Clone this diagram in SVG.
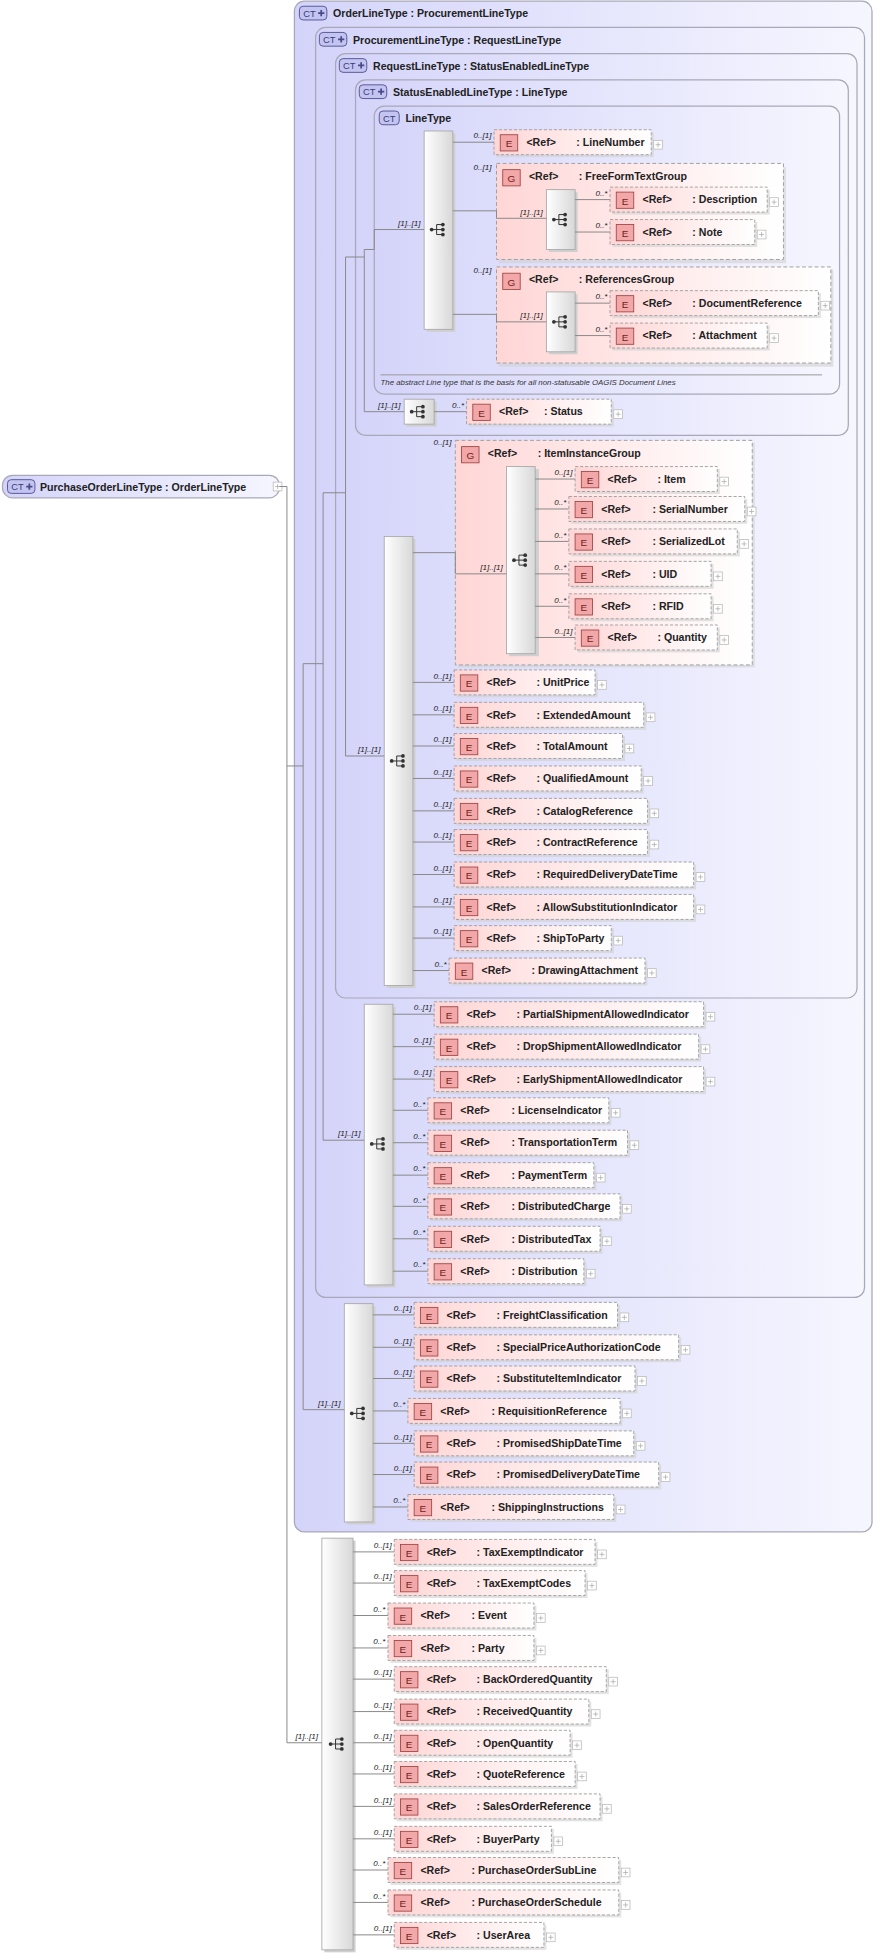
<svg xmlns="http://www.w3.org/2000/svg" xmlns:xlink="http://www.w3.org/1999/xlink" width="877" height="1955" viewBox="0 0 877 1955">
<defs>
<linearGradient id="gct" x1="0" y1="0" x2="1" y2="0"><stop offset="0" stop-color="#d4d4fa"/><stop offset="1" stop-color="#f6f6ff"/></linearGradient>
<linearGradient id="gel" x1="0" y1="0" x2="1" y2="0"><stop offset="0" stop-color="#ffd6d6"/><stop offset="1" stop-color="#ffffff"/></linearGradient>
<linearGradient id="gbar" x1="0" y1="0" x2="1" y2="0"><stop offset="0" stop-color="#ffffff"/><stop offset="1" stop-color="#d8d8d8"/></linearGradient>
<g id="seqg"><path d="M-6,0H-2M-2,-4V4M-2,-4H3M-2,0H3M-2,4H3" stroke="#333" stroke-width="0.8" fill="none"/><circle cx="-6" cy="0" r="1.5" fill="#333"/><circle cx="3" cy="-4" r="1.5" fill="#333"/><circle cx="3" cy="0" r="1.5" fill="#333"/><circle cx="3" cy="4" r="1.5" fill="#333"/></g>
<g id="pb"><rect x="0" y="-3.5" width="7" height="7" fill="#fff" stroke="#b8b8b8" stroke-width="0.6"/><path d="M1.5,0H5.5M3.5,-2V2" stroke="#aaa" stroke-width="0.6"/></g>
<g id="ctp"><path d="M0,-2.5V2.5M-2.5,0H2.5" stroke="#4a4a8a" stroke-width="1.4"/></g>
</defs>
<style>
.ct{fill:url(#gct);stroke:#a8a8b8;stroke-width:1}
.ci{fill:#c4c4f0;stroke:#5a5a9a;stroke-width:.8}
.cit{font-family:"Liberation Sans",Arial,sans-serif;font-size:7.5px;fill:#3a3a7a}
.tt{font-family:"Liberation Sans",Arial,sans-serif;font-size:8.5px;font-weight:bold;fill:#222}
.t{font-family:"Liberation Sans",Arial,sans-serif;font-size:8.5px;font-weight:bold;fill:#222}
.eb{fill:url(#gel);stroke:#9a9a9a;stroke-width:.7;stroke-dasharray:2.5 1.5}
.sh{fill:#d0d0d0;opacity:.6}
.gb{fill:url(#gel);stroke:#a0a0a0;stroke-width:.8;stroke-dasharray:3 2}
.ei{fill:#f2a8a8;stroke:#a04545;stroke-width:.7}
.ie{font-family:"Liberation Sans",Arial,sans-serif;font-size:8px;fill:#702020;text-anchor:middle}
.bar{fill:url(#gbar);stroke:#a8a8a8;stroke-width:.7}
.bsh{fill:#cfcfcf}
.cn{fill:none;stroke:#8a8a8a;stroke-width:.8}
.cd{font-family:"Liberation Sans",Arial,sans-serif;font-size:6.5px;font-style:italic;fill:#222;text-anchor:end}
.ds{font-family:"Liberation Sans",Arial,sans-serif;font-size:6.3px;font-style:italic;fill:#333}
</style>
<rect width="877" height="1955" fill="#fff"/>
<g transform="scale(1.2475)">

<!-- complex type containers -->
<g id="ct-OrderLineType"><rect class="ct" x="236" y="1" width="463" height="1227" rx="8"/><rect class="ci" x="240" y="5" width="22" height="11" rx="3"/><text class="cit" x="243" y="13.5">CT</text><use href="#ctp" x="257.5" y="10.5"/><text class="tt" x="267" y="14">OrderLineType : ProcurementLineType</text></g>
<g id="ct-ProcurementLineType"><rect class="ct" x="253" y="22" width="440" height="1018" rx="8"/><rect class="ci" x="256" y="26" width="22" height="11" rx="3"/><text class="cit" x="259" y="34.5">CT</text><use href="#ctp" x="273.5" y="31.5"/><text class="tt" x="283" y="35">ProcurementLineType : RequestLineType</text></g>
<g id="ct-RequestLineType"><rect class="ct" x="269" y="43" width="418" height="757" rx="8"/><rect class="ci" x="272" y="47" width="22" height="11" rx="3"/><text class="cit" x="275" y="55.5">CT</text><use href="#ctp" x="289.5" y="52.5"/><text class="tt" x="299" y="56">RequestLineType : StatusEnabledLineType</text></g>
<g id="ct-StatusEnabledLineType"><rect class="ct" x="285" y="64" width="395" height="285" rx="8"/><rect class="ci" x="288" y="68" width="22" height="11" rx="3"/><text class="cit" x="291" y="76.5">CT</text><use href="#ctp" x="305.5" y="73.5"/><text class="tt" x="315" y="77">StatusEnabledLineType : LineType</text></g>
<g id="ct-LineType"><rect class="ct" x="300" y="85" width="373" height="231" rx="8"/><rect class="ci" x="304" y="89" width="16" height="11" rx="3"/><text class="cit" x="307" y="97.5">CT</text><text class="tt" x="325" y="98">LineType</text><path d="M305,300.5H659" stroke="#999" stroke-width=".8"/><text class="ds" x="305" y="308.5">The abstract Line type that is the basis for all non-statusable OAGIS Document Lines</text></g>

<!-- root -->
<g id="root"><rect class="ct" x="2" y="381" width="222" height="18" rx="8"/><rect class="ci" x="6" y="384.5" width="22" height="11" rx="3"/><text class="cit" x="9" y="393">CT</text><use href="#ctp" x="23.5" y="390"/><text class="tt" x="32" y="393.5">PurchaseOrderLineType : OrderLineType</text><use href="#pb" x="219" y="390"/></g>

<!-- groups -->
<g id="g-FreeFormTextGroup"><rect class="sh" x="400" y="134" width="230" height="77"/><rect class="gb" x="398" y="131" width="230" height="77"/><rect class="ei" x="403" y="136" width="14" height="13"/><text class="ie" x="410" y="146">G</text><text class="t" x="424" y="144">&lt;Ref&gt;</text><text class="t" x="464" y="144">: FreeFormTextGroup</text></g>
<g id="g-ReferencesGroup"><rect class="sh" x="400" y="216" width="268" height="78"/><rect class="gb" x="398" y="214" width="268" height="77"/><rect class="ei" x="403" y="219" width="14" height="13"/><text class="ie" x="410" y="229">G</text><text class="t" x="424" y="227">&lt;Ref&gt;</text><text class="t" x="464" y="227">: ReferencesGroup</text></g>
<g id="g-ItemInstanceGroup"><rect class="sh" x="367" y="355" width="238" height="180"/><rect class="gb" x="365" y="353" width="238" height="180"/><rect class="ei" x="370" y="358" width="14" height="13"/><text class="ie" x="377" y="368">G</text><text class="t" x="391" y="366">&lt;Ref&gt;</text><text class="t" x="431" y="366">: ItemInstanceGroup</text></g>

<!-- sequence bars -->
<g id="s-LineType"><rect class="bsh" x="342" y="107" width="23" height="159"/><rect class="bar" x="340" y="105" width="23" height="159"/><use href="#seqg" x="352" y="184"/></g>
<g id="s-FreeForm"><rect class="bsh" x="440" y="154" width="23" height="48"/><rect class="bar" x="438" y="152" width="23" height="48"/><use href="#seqg" x="450" y="176"/></g>
<g id="s-Refs"><rect class="bsh" x="440" y="236" width="23" height="48"/><rect class="bar" x="438" y="234" width="23" height="48"/><use href="#seqg" x="450" y="258"/></g>
<g id="s-Status"><rect class="bsh" x="326" y="322" width="24" height="20"/><rect class="bar" x="324" y="320" width="24" height="20"/><use href="#seqg" x="336" y="330"/></g>
<g id="s-Item"><rect class="bsh" x="408" y="376" width="24" height="150"/><rect class="bar" x="406" y="374" width="23" height="150"/><use href="#seqg" x="418" y="449"/></g>
<g id="s-Request"><rect class="bsh" x="310" y="432" width="23" height="360"/><rect class="bar" x="308" y="430" width="23" height="360"/><use href="#seqg" x="320" y="610"/></g>
<g id="s-Procurement"><rect class="bsh" x="294" y="807" width="23" height="225"/><rect class="bar" x="292" y="805" width="23" height="225"/><use href="#seqg" x="304" y="917"/></g>
<g id="s-Order"><rect class="bsh" x="278" y="1047" width="23" height="175"/><rect class="bar" x="276" y="1045" width="23" height="175"/><use href="#seqg" x="288" y="1133"/></g>
<g id="s-Root"><rect class="bsh" x="260" y="1235" width="25" height="330"/><rect class="bar" x="258" y="1233" width="25" height="330"/><use href="#seqg" x="271" y="1398"/></g>

<!-- connectors -->
<g id="connectors">
<path class="cn" d="M224,390H230V1397H258M230,614H243"/>
<path class="cn" d="M243,532V1130H276M243,532H259"/>
<path class="cn" d="M259,395V914H292M259,395H277"/>
<path class="cn" d="M277,206V606H308M277,206H292"/>
<path class="cn" d="M292,200V330H324M292,200H300"/>
<path class="cn" d="M300,200V184H340"/>
<text class="cd" x="337" y="181">[1]..[1]</text>
<text class="cd" x="321" y="327">[1]..[1]</text>
<text class="cd" x="305" y="603">[1]..[1]</text>
<text class="cd" x="289" y="911">[1]..[1]</text>
<text class="cd" x="273" y="1127">[1]..[1]</text>
<text class="cd" x="255" y="1394">[1]..[1]</text>
<path class="cn" d="M363,114H396M363,169H398V175H438M363,252H398V258H438M331,443H365V460H406"/>
<text class="cd" x="394" y="111">0..[1]</text>
<text class="cd" x="394" y="136">0..[1]</text>
<text class="cd" x="394" y="219">0..[1]</text>
<text class="cd" x="435" y="172">[1]..[1]</text>
<text class="cd" x="435" y="255">[1]..[1]</text>
<text class="cd" x="362" y="357">0..[1]</text>
<text class="cd" x="403" y="457">[1]..[1]</text>
<path class="cn" d="M461,160H489M461,186H489M461,243H489M461,269H489M348,330H374"/>
<text class="cd" x="487" y="157">0..*</text>
<text class="cd" x="487" y="183">0..*</text>
<text class="cd" x="487" y="240">0..*</text>
<text class="cd" x="487" y="266">0..*</text>
<text class="cd" x="372" y="327">0..*</text>
<path class="cn" d="M429,384H461M429,408H456M429,434H456M429,460H456M429,486H456M429,511H461"/>
<text class="cd" x="459" y="381">0..[1]</text>
<text class="cd" x="454" y="405">0..*</text>
<text class="cd" x="454" y="431">0..*</text>
<text class="cd" x="454" y="457">0..*</text>
<text class="cd" x="454" y="483">0..*</text>
<text class="cd" x="459" y="508">0..[1]</text>
<path class="cn" d="M331,547H364M331,573H364M331,598H364M331,624H364M331,650H364M331,675H364M331,701H364M331,727H364M331,752H364M331,778H360"/>
<text class="cd" x="362" y="544">0..[1]</text>
<text class="cd" x="362" y="570">0..[1]</text>
<text class="cd" x="362" y="595">0..[1]</text>
<text class="cd" x="362" y="621">0..[1]</text>
<text class="cd" x="362" y="647">0..[1]</text>
<text class="cd" x="362" y="672">0..[1]</text>
<text class="cd" x="362" y="698">0..[1]</text>
<text class="cd" x="362" y="724">0..[1]</text>
<text class="cd" x="362" y="749">0..[1]</text>
<text class="cd" x="358" y="775">0..*</text>
<path class="cn" d="M315,813H348M315,839H348M315,865H348M315,890H343M315,916H343M315,942H343M315,967H343M315,993H343M315,1019H343"/>
<text class="cd" x="346" y="810">0..[1]</text>
<text class="cd" x="346" y="836">0..[1]</text>
<text class="cd" x="346" y="862">0..[1]</text>
<text class="cd" x="341" y="887">0..*</text>
<text class="cd" x="341" y="913">0..*</text>
<text class="cd" x="341" y="939">0..*</text>
<text class="cd" x="341" y="964">0..*</text>
<text class="cd" x="341" y="990">0..*</text>
<text class="cd" x="341" y="1016">0..*</text>
<path class="cn" d="M299,1054H332M299,1080H332M299,1105H332M299,1131H327M299,1157H332M299,1182H332M299,1208H327"/>
<text class="cd" x="330" y="1051">0..[1]</text>
<text class="cd" x="330" y="1077">0..[1]</text>
<text class="cd" x="330" y="1102">0..[1]</text>
<text class="cd" x="325" y="1128">0..*</text>
<text class="cd" x="330" y="1154">0..[1]</text>
<text class="cd" x="330" y="1179">0..[1]</text>
<text class="cd" x="325" y="1205">0..*</text>
<path class="cn" d="M283,1244H316M283,1269H316M283,1295H311M283,1321H311M283,1346H316M283,1372H316M283,1397H316M283,1422H316M283,1448H316M283,1474H316M283,1499H311M283,1525H311M283,1551H316"/>
<text class="cd" x="314" y="1241">0..[1]</text>
<text class="cd" x="314" y="1266">0..[1]</text>
<text class="cd" x="309" y="1292">0..*</text>
<text class="cd" x="309" y="1318">0..*</text>
<text class="cd" x="314" y="1343">0..[1]</text>
<text class="cd" x="314" y="1369">0..[1]</text>
<text class="cd" x="314" y="1394">0..[1]</text>
<text class="cd" x="314" y="1419">0..[1]</text>
<text class="cd" x="314" y="1445">0..[1]</text>
<text class="cd" x="314" y="1471">0..[1]</text>
<text class="cd" x="309" y="1496">0..*</text>
<text class="cd" x="309" y="1522">0..*</text>
<text class="cd" x="314" y="1548">0..[1]</text>
</g>

<!-- elements -->
<g id="e-LineNumber" transform="translate(396,114)"><rect class="sh" x="2" y="-8" width="126" height="20"/><rect class="eb" y="-10" width="126" height="20"/><rect class="ei" x="5" y="-6" width="14" height="13"/><text class="ie" x="12" y="4">E</text><text class="t" x="26" y="3">&lt;Ref&gt;</text><text class="t" x="66" y="3">: LineNumber</text><use href="#pb" x="128" y="2"/></g>
<g id="e-Description" transform="translate(489,160)"><rect class="sh" x="2" y="-8" width="126" height="20"/><rect class="eb" y="-10" width="126" height="20"/><rect class="ei" x="5" y="-6" width="14" height="13"/><text class="ie" x="12" y="4">E</text><text class="t" x="26" y="3">&lt;Ref&gt;</text><text class="t" x="66" y="3">: Description</text><use href="#pb" x="128" y="2"/></g>
<g id="e-Note" transform="translate(489,186)"><rect class="sh" x="2" y="-8" width="116" height="20"/><rect class="eb" y="-10" width="116" height="20"/><rect class="ei" x="5" y="-6" width="14" height="13"/><text class="ie" x="12" y="4">E</text><text class="t" x="26" y="3">&lt;Ref&gt;</text><text class="t" x="66" y="3">: Note</text><use href="#pb" x="118" y="2"/></g>
<g id="e-DocumentReference" transform="translate(489,243)"><rect class="sh" x="2" y="-8" width="167" height="20"/><rect class="eb" y="-10" width="167" height="20"/><rect class="ei" x="5" y="-6" width="14" height="13"/><text class="ie" x="12" y="4">E</text><text class="t" x="26" y="3">&lt;Ref&gt;</text><text class="t" x="66" y="3">: DocumentReference</text><use href="#pb" x="169" y="2"/></g>
<g id="e-Attachment" transform="translate(489,269)"><rect class="sh" x="2" y="-8" width="126" height="20"/><rect class="eb" y="-10" width="126" height="20"/><rect class="ei" x="5" y="-6" width="14" height="13"/><text class="ie" x="12" y="4">E</text><text class="t" x="26" y="3">&lt;Ref&gt;</text><text class="t" x="66" y="3">: Attachment</text><use href="#pb" x="128" y="2"/></g>
<g id="e-Status" transform="translate(374,330)"><rect class="sh" x="2" y="-8" width="116" height="20"/><rect class="eb" y="-10" width="116" height="20"/><rect class="ei" x="5" y="-6" width="14" height="13"/><text class="ie" x="12" y="4">E</text><text class="t" x="26" y="3">&lt;Ref&gt;</text><text class="t" x="62" y="3">: Status</text><use href="#pb" x="118" y="2"/></g>

<g id="e-Item" transform="translate(461,384)"><rect class="sh" x="2" y="-8" width="114" height="20"/><rect class="eb" y="-10" width="114" height="20"/><rect class="ei" x="5" y="-6" width="14" height="13"/><text class="ie" x="12" y="4">E</text><text class="t" x="26" y="3">&lt;Ref&gt;</text><text class="t" x="66" y="3">: Item</text><use href="#pb" x="116" y="2"/></g>
<g id="e-SerialNumber" transform="translate(456,408)"><rect class="sh" x="2" y="-8" width="141" height="20"/><rect class="eb" y="-10" width="141" height="20"/><rect class="ei" x="5" y="-6" width="14" height="13"/><text class="ie" x="12" y="4">E</text><text class="t" x="26" y="3">&lt;Ref&gt;</text><text class="t" x="67" y="3">: SerialNumber</text><use href="#pb" x="143" y="2"/></g>
<g id="e-SerializedLot" transform="translate(456,434)"><rect class="sh" x="2" y="-8" width="135" height="20"/><rect class="eb" y="-10" width="135" height="20"/><rect class="ei" x="5" y="-6" width="14" height="13"/><text class="ie" x="12" y="4">E</text><text class="t" x="26" y="3">&lt;Ref&gt;</text><text class="t" x="67" y="3">: SerializedLot</text><use href="#pb" x="137" y="2"/></g>
<g id="e-UID" transform="translate(456,460)"><rect class="sh" x="2" y="-8" width="114" height="20"/><rect class="eb" y="-10" width="114" height="20"/><rect class="ei" x="5" y="-6" width="14" height="13"/><text class="ie" x="12" y="4">E</text><text class="t" x="26" y="3">&lt;Ref&gt;</text><text class="t" x="67" y="3">: UID</text><use href="#pb" x="116" y="2"/></g>
<g id="e-RFID" transform="translate(456,486)"><rect class="sh" x="2" y="-8" width="114" height="20"/><rect class="eb" y="-10" width="114" height="20"/><rect class="ei" x="5" y="-6" width="14" height="13"/><text class="ie" x="12" y="4">E</text><text class="t" x="26" y="3">&lt;Ref&gt;</text><text class="t" x="67" y="3">: RFID</text><use href="#pb" x="116" y="2"/></g>
<g id="e-Quantity" transform="translate(461,511)"><rect class="sh" x="2" y="-8" width="114" height="20"/><rect class="eb" y="-10" width="114" height="20"/><rect class="ei" x="5" y="-6" width="14" height="13"/><text class="ie" x="12" y="4">E</text><text class="t" x="26" y="3">&lt;Ref&gt;</text><text class="t" x="66" y="3">: Quantity</text><use href="#pb" x="116" y="2"/></g>

<g id="e-UnitPrice" transform="translate(364,547)"><rect class="sh" x="2" y="-8" width="113" height="20"/><rect class="eb" y="-10" width="113" height="20"/><rect class="ei" x="5" y="-6" width="14" height="13"/><text class="ie" x="12" y="4">E</text><text class="t" x="26" y="3">&lt;Ref&gt;</text><text class="t" x="66" y="3">: UnitPrice</text><use href="#pb" x="115" y="2"/></g>
<g id="e-ExtendedAmount" transform="translate(364,573)"><rect class="sh" x="2" y="-8" width="152" height="20"/><rect class="eb" y="-10" width="152" height="20"/><rect class="ei" x="5" y="-6" width="14" height="13"/><text class="ie" x="12" y="4">E</text><text class="t" x="26" y="3">&lt;Ref&gt;</text><text class="t" x="66" y="3">: ExtendedAmount</text><use href="#pb" x="154" y="2"/></g>
<g id="e-TotalAmount" transform="translate(364,598)"><rect class="sh" x="2" y="-8" width="135" height="20"/><rect class="eb" y="-10" width="135" height="20"/><rect class="ei" x="5" y="-6" width="14" height="13"/><text class="ie" x="12" y="4">E</text><text class="t" x="26" y="3">&lt;Ref&gt;</text><text class="t" x="66" y="3">: TotalAmount</text><use href="#pb" x="137" y="2"/></g>
<g id="e-QualifiedAmount" transform="translate(364,624)"><rect class="sh" x="2" y="-8" width="150" height="20"/><rect class="eb" y="-10" width="150" height="20"/><rect class="ei" x="5" y="-6" width="14" height="13"/><text class="ie" x="12" y="4">E</text><text class="t" x="26" y="3">&lt;Ref&gt;</text><text class="t" x="66" y="3">: QualifiedAmount</text><use href="#pb" x="152" y="2"/></g>
<g id="e-CatalogReference" transform="translate(364,650)"><rect class="sh" x="2" y="-8" width="155" height="20"/><rect class="eb" y="-10" width="155" height="20"/><rect class="ei" x="5" y="-6" width="14" height="13"/><text class="ie" x="12" y="4">E</text><text class="t" x="26" y="3">&lt;Ref&gt;</text><text class="t" x="66" y="3">: CatalogReference</text><use href="#pb" x="157" y="2"/></g>
<g id="e-ContractReference" transform="translate(364,675)"><rect class="sh" x="2" y="-8" width="155" height="20"/><rect class="eb" y="-10" width="155" height="20"/><rect class="ei" x="5" y="-6" width="14" height="13"/><text class="ie" x="12" y="4">E</text><text class="t" x="26" y="3">&lt;Ref&gt;</text><text class="t" x="66" y="3">: ContractReference</text><use href="#pb" x="157" y="2"/></g>
<g id="e-RequiredDeliveryDateTime" transform="translate(364,701)"><rect class="sh" x="2" y="-8" width="192" height="20"/><rect class="eb" y="-10" width="192" height="20"/><rect class="ei" x="5" y="-6" width="14" height="13"/><text class="ie" x="12" y="4">E</text><text class="t" x="26" y="3">&lt;Ref&gt;</text><text class="t" x="66" y="3">: RequiredDeliveryDateTime</text><use href="#pb" x="194" y="2"/></g>
<g id="e-AllowSubstitutionIndicator" transform="translate(364,727)"><rect class="sh" x="2" y="-8" width="192" height="20"/><rect class="eb" y="-10" width="192" height="20"/><rect class="ei" x="5" y="-6" width="14" height="13"/><text class="ie" x="12" y="4">E</text><text class="t" x="26" y="3">&lt;Ref&gt;</text><text class="t" x="66" y="3">: AllowSubstitutionIndicator</text><use href="#pb" x="194" y="2"/></g>
<g id="e-ShipToParty" transform="translate(364,752)"><rect class="sh" x="2" y="-8" width="126" height="20"/><rect class="eb" y="-10" width="126" height="20"/><rect class="ei" x="5" y="-6" width="14" height="13"/><text class="ie" x="12" y="4">E</text><text class="t" x="26" y="3">&lt;Ref&gt;</text><text class="t" x="66" y="3">: ShipToParty</text><use href="#pb" x="128" y="2"/></g>
<g id="e-DrawingAttachment" transform="translate(360,778)"><rect class="sh" x="2" y="-8" width="157" height="20"/><rect class="eb" y="-10" width="157" height="20"/><rect class="ei" x="5" y="-6" width="14" height="13"/><text class="ie" x="12" y="4">E</text><text class="t" x="26" y="3">&lt;Ref&gt;</text><text class="t" x="66" y="3">: DrawingAttachment</text><use href="#pb" x="159" y="2"/></g>

<g id="e-PartialShipmentAllowedIndicator" transform="translate(348,813)"><rect class="sh" x="2" y="-8" width="216" height="20"/><rect class="eb" y="-10" width="216" height="20"/><rect class="ei" x="5" y="-6" width="14" height="13"/><text class="ie" x="12" y="4">E</text><text class="t" x="26" y="3">&lt;Ref&gt;</text><text class="t" x="66" y="3">: PartialShipmentAllowedIndicator</text><use href="#pb" x="218" y="2"/></g>
<g id="e-DropShipmentAllowedIndicator" transform="translate(348,839)"><rect class="sh" x="2" y="-8" width="212" height="20"/><rect class="eb" y="-10" width="212" height="20"/><rect class="ei" x="5" y="-6" width="14" height="13"/><text class="ie" x="12" y="4">E</text><text class="t" x="26" y="3">&lt;Ref&gt;</text><text class="t" x="66" y="3">: DropShipmentAllowedIndicator</text><use href="#pb" x="214" y="2"/></g>
<g id="e-EarlyShipmentAllowedIndicator" transform="translate(348,865)"><rect class="sh" x="2" y="-8" width="216" height="20"/><rect class="eb" y="-10" width="216" height="20"/><rect class="ei" x="5" y="-6" width="14" height="13"/><text class="ie" x="12" y="4">E</text><text class="t" x="26" y="3">&lt;Ref&gt;</text><text class="t" x="66" y="3">: EarlyShipmentAllowedIndicator</text><use href="#pb" x="218" y="2"/></g>
<g id="e-LicenseIndicator" transform="translate(343,890)"><rect class="sh" x="2" y="-8" width="145" height="20"/><rect class="eb" y="-10" width="145" height="20"/><rect class="ei" x="5" y="-6" width="14" height="13"/><text class="ie" x="12" y="4">E</text><text class="t" x="26" y="3">&lt;Ref&gt;</text><text class="t" x="67" y="3">: LicenseIndicator</text><use href="#pb" x="147" y="2"/></g>
<g id="e-TransportationTerm" transform="translate(343,916)"><rect class="sh" x="2" y="-8" width="160" height="20"/><rect class="eb" y="-10" width="160" height="20"/><rect class="ei" x="5" y="-6" width="14" height="13"/><text class="ie" x="12" y="4">E</text><text class="t" x="26" y="3">&lt;Ref&gt;</text><text class="t" x="67" y="3">: TransportationTerm</text><use href="#pb" x="162" y="2"/></g>
<g id="e-PaymentTerm" transform="translate(343,942)"><rect class="sh" x="2" y="-8" width="133" height="20"/><rect class="eb" y="-10" width="133" height="20"/><rect class="ei" x="5" y="-6" width="14" height="13"/><text class="ie" x="12" y="4">E</text><text class="t" x="26" y="3">&lt;Ref&gt;</text><text class="t" x="67" y="3">: PaymentTerm</text><use href="#pb" x="135" y="2"/></g>
<g id="e-DistributedCharge" transform="translate(343,967)"><rect class="sh" x="2" y="-8" width="154" height="20"/><rect class="eb" y="-10" width="154" height="20"/><rect class="ei" x="5" y="-6" width="14" height="13"/><text class="ie" x="12" y="4">E</text><text class="t" x="26" y="3">&lt;Ref&gt;</text><text class="t" x="67" y="3">: DistributedCharge</text><use href="#pb" x="156" y="2"/></g>
<g id="e-DistributedTax" transform="translate(343,993)"><rect class="sh" x="2" y="-8" width="138" height="20"/><rect class="eb" y="-10" width="138" height="20"/><rect class="ei" x="5" y="-6" width="14" height="13"/><text class="ie" x="12" y="4">E</text><text class="t" x="26" y="3">&lt;Ref&gt;</text><text class="t" x="67" y="3">: DistributedTax</text><use href="#pb" x="140" y="2"/></g>
<g id="e-Distribution" transform="translate(343,1019)"><rect class="sh" x="2" y="-8" width="125" height="20"/><rect class="eb" y="-10" width="125" height="20"/><rect class="ei" x="5" y="-6" width="14" height="13"/><text class="ie" x="12" y="4">E</text><text class="t" x="26" y="3">&lt;Ref&gt;</text><text class="t" x="67" y="3">: Distribution</text><use href="#pb" x="127" y="2"/></g>

<g id="e-FreightClassification" transform="translate(332,1054)"><rect class="sh" x="2" y="-8" width="163" height="20"/><rect class="eb" y="-10" width="163" height="20"/><rect class="ei" x="5" y="-6" width="14" height="13"/><text class="ie" x="12" y="4">E</text><text class="t" x="26" y="3">&lt;Ref&gt;</text><text class="t" x="66" y="3">: FreightClassification</text><use href="#pb" x="165" y="2"/></g>
<g id="e-SpecialPriceAuthorizationCode" transform="translate(332,1080)"><rect class="sh" x="2" y="-8" width="212" height="20"/><rect class="eb" y="-10" width="212" height="20"/><rect class="ei" x="5" y="-6" width="14" height="13"/><text class="ie" x="12" y="4">E</text><text class="t" x="26" y="3">&lt;Ref&gt;</text><text class="t" x="66" y="3">: SpecialPriceAuthorizationCode</text><use href="#pb" x="214" y="2"/></g>
<g id="e-SubstituteItemIndicator" transform="translate(332,1105)"><rect class="sh" x="2" y="-8" width="177" height="20"/><rect class="eb" y="-10" width="177" height="20"/><rect class="ei" x="5" y="-6" width="14" height="13"/><text class="ie" x="12" y="4">E</text><text class="t" x="26" y="3">&lt;Ref&gt;</text><text class="t" x="66" y="3">: SubstituteItemIndicator</text><use href="#pb" x="179" y="2"/></g>
<g id="e-RequisitionReference" transform="translate(327,1131)"><rect class="sh" x="2" y="-8" width="170" height="20"/><rect class="eb" y="-10" width="170" height="20"/><rect class="ei" x="5" y="-6" width="14" height="13"/><text class="ie" x="12" y="4">E</text><text class="t" x="26" y="3">&lt;Ref&gt;</text><text class="t" x="67" y="3">: RequisitionReference</text><use href="#pb" x="172" y="2"/></g>
<g id="e-PromisedShipDateTime" transform="translate(332,1157)"><rect class="sh" x="2" y="-8" width="176" height="20"/><rect class="eb" y="-10" width="176" height="20"/><rect class="ei" x="5" y="-6" width="14" height="13"/><text class="ie" x="12" y="4">E</text><text class="t" x="26" y="3">&lt;Ref&gt;</text><text class="t" x="66" y="3">: PromisedShipDateTime</text><use href="#pb" x="178" y="2"/></g>
<g id="e-PromisedDeliveryDateTime" transform="translate(332,1182)"><rect class="sh" x="2" y="-8" width="196" height="20"/><rect class="eb" y="-10" width="196" height="20"/><rect class="ei" x="5" y="-6" width="14" height="13"/><text class="ie" x="12" y="4">E</text><text class="t" x="26" y="3">&lt;Ref&gt;</text><text class="t" x="66" y="3">: PromisedDeliveryDateTime</text><use href="#pb" x="198" y="2"/></g>
<g id="e-ShippingInstructions" transform="translate(327,1208)"><rect class="sh" x="2" y="-8" width="165" height="20"/><rect class="eb" y="-10" width="165" height="20"/><rect class="ei" x="5" y="-6" width="14" height="13"/><text class="ie" x="12" y="4">E</text><text class="t" x="26" y="3">&lt;Ref&gt;</text><text class="t" x="67" y="3">: ShippingInstructions</text><use href="#pb" x="167" y="2"/></g>

<g id="e-TaxExemptIndicator" transform="translate(316,1244)"><rect class="sh" x="2" y="-8" width="161" height="20"/><rect class="eb" y="-10" width="161" height="20"/><rect class="ei" x="5" y="-6" width="14" height="13"/><text class="ie" x="12" y="4">E</text><text class="t" x="26" y="3">&lt;Ref&gt;</text><text class="t" x="66" y="3">: TaxExemptIndicator</text><use href="#pb" x="163" y="2"/></g>
<g id="e-TaxExemptCodes" transform="translate(316,1269)"><rect class="sh" x="2" y="-8" width="153" height="20"/><rect class="eb" y="-10" width="153" height="20"/><rect class="ei" x="5" y="-6" width="14" height="13"/><text class="ie" x="12" y="4">E</text><text class="t" x="26" y="3">&lt;Ref&gt;</text><text class="t" x="66" y="3">: TaxExemptCodes</text><use href="#pb" x="155" y="2"/></g>
<g id="e-Event" transform="translate(311,1295)"><rect class="sh" x="2" y="-8" width="117" height="20"/><rect class="eb" y="-10" width="117" height="20"/><rect class="ei" x="5" y="-6" width="14" height="13"/><text class="ie" x="12" y="4">E</text><text class="t" x="26" y="3">&lt;Ref&gt;</text><text class="t" x="67" y="3">: Event</text><use href="#pb" x="119" y="2"/></g>
<g id="e-Party" transform="translate(311,1321)"><rect class="sh" x="2" y="-8" width="117" height="20"/><rect class="eb" y="-10" width="117" height="20"/><rect class="ei" x="5" y="-6" width="14" height="13"/><text class="ie" x="12" y="4">E</text><text class="t" x="26" y="3">&lt;Ref&gt;</text><text class="t" x="67" y="3">: Party</text><use href="#pb" x="119" y="2"/></g>
<g id="e-BackOrderedQuantity" transform="translate(316,1346)"><rect class="sh" x="2" y="-8" width="170" height="20"/><rect class="eb" y="-10" width="170" height="20"/><rect class="ei" x="5" y="-6" width="14" height="13"/><text class="ie" x="12" y="4">E</text><text class="t" x="26" y="3">&lt;Ref&gt;</text><text class="t" x="66" y="3">: BackOrderedQuantity</text><use href="#pb" x="172" y="2"/></g>
<g id="e-ReceivedQuantity" transform="translate(316,1372)"><rect class="sh" x="2" y="-8" width="156" height="20"/><rect class="eb" y="-10" width="156" height="20"/><rect class="ei" x="5" y="-6" width="14" height="13"/><text class="ie" x="12" y="4">E</text><text class="t" x="26" y="3">&lt;Ref&gt;</text><text class="t" x="66" y="3">: ReceivedQuantity</text><use href="#pb" x="158" y="2"/></g>
<g id="e-OpenQuantity" transform="translate(316,1397)"><rect class="sh" x="2" y="-8" width="141" height="20"/><rect class="eb" y="-10" width="141" height="20"/><rect class="ei" x="5" y="-6" width="14" height="13"/><text class="ie" x="12" y="4">E</text><text class="t" x="26" y="3">&lt;Ref&gt;</text><text class="t" x="66" y="3">: OpenQuantity</text><use href="#pb" x="143" y="2"/></g>
<g id="e-QuoteReference" transform="translate(316,1422)"><rect class="sh" x="2" y="-8" width="145" height="20"/><rect class="eb" y="-10" width="145" height="20"/><rect class="ei" x="5" y="-6" width="14" height="13"/><text class="ie" x="12" y="4">E</text><text class="t" x="26" y="3">&lt;Ref&gt;</text><text class="t" x="66" y="3">: QuoteReference</text><use href="#pb" x="147" y="2"/></g>
<g id="e-SalesOrderReference" transform="translate(316,1448)"><rect class="sh" x="2" y="-8" width="165" height="20"/><rect class="eb" y="-10" width="165" height="20"/><rect class="ei" x="5" y="-6" width="14" height="13"/><text class="ie" x="12" y="4">E</text><text class="t" x="26" y="3">&lt;Ref&gt;</text><text class="t" x="66" y="3">: SalesOrderReference</text><use href="#pb" x="167" y="2"/></g>
<g id="e-BuyerParty" transform="translate(316,1474)"><rect class="sh" x="2" y="-8" width="126" height="20"/><rect class="eb" y="-10" width="126" height="20"/><rect class="ei" x="5" y="-6" width="14" height="13"/><text class="ie" x="12" y="4">E</text><text class="t" x="26" y="3">&lt;Ref&gt;</text><text class="t" x="66" y="3">: BuyerParty</text><use href="#pb" x="128" y="2"/></g>
<g id="e-PurchaseOrderSubLine" transform="translate(311,1499)"><rect class="sh" x="2" y="-8" width="185" height="20"/><rect class="eb" y="-10" width="185" height="20"/><rect class="ei" x="5" y="-6" width="14" height="13"/><text class="ie" x="12" y="4">E</text><text class="t" x="26" y="3">&lt;Ref&gt;</text><text class="t" x="67" y="3">: PurchaseOrderSubLine</text><use href="#pb" x="187" y="2"/></g>
<g id="e-PurchaseOrderSchedule" transform="translate(311,1525)"><rect class="sh" x="2" y="-8" width="185" height="20"/><rect class="eb" y="-10" width="185" height="20"/><rect class="ei" x="5" y="-6" width="14" height="13"/><text class="ie" x="12" y="4">E</text><text class="t" x="26" y="3">&lt;Ref&gt;</text><text class="t" x="67" y="3">: PurchaseOrderSchedule</text><use href="#pb" x="187" y="2"/></g>
<g id="e-UserArea" transform="translate(316,1551)"><rect class="sh" x="2" y="-8" width="120" height="20"/><rect class="eb" y="-10" width="120" height="20"/><rect class="ei" x="5" y="-6" width="14" height="13"/><text class="ie" x="12" y="4">E</text><text class="t" x="26" y="3">&lt;Ref&gt;</text><text class="t" x="66" y="3">: UserArea</text><use href="#pb" x="122" y="2"/></g>
</g>
</svg>
